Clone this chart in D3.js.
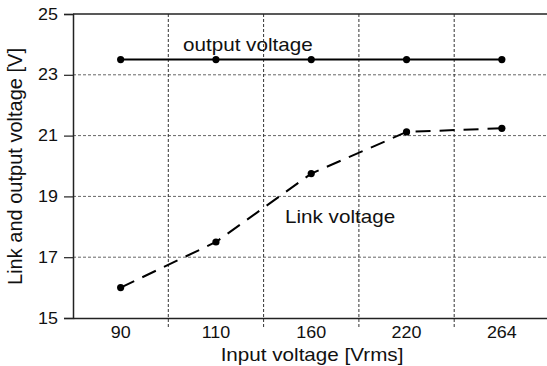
<!DOCTYPE html>
<html lang="en">
<head>
<meta charset="UTF-8">
<script src="https://cdn.jsdelivr.net/npm/d3@7"></script>
<style>
    body { margin: 0; background: #fff; }
    svg { display: block; font-family: "Liberation Sans", Arial, sans-serif; }
</style>
</head>
<body>
<script>
// chart data
const categories = ["90", "110", "160", "220", "264"];
const outputVoltage = [23.5, 23.5, 23.5, 23.5, 23.5];
const linkVoltage = [16.0, 17.5, 19.75, 21.12, 21.24];
const yTicks = [15, 17, 19, 21, 23, 25];

const width = 547, height = 366;
const margin = {top: 14, bottom: 48, left: 73};
const plotW = 476.5;
const plotH = height - margin.top - margin.bottom;
// the original picture is a bit stretched sideways, so are its letters
const sx = 1.18;

const svg = d3.select("body").append("svg")
    .attr("width", width)
    .attr("height", height);

const g = svg.append("g").attr("transform", `translate(${margin.left},${margin.top})`);

// scales
const x = d3.scaleBand().domain(categories).range([0, plotW]).padding(0);
const y = d3.scaleLinear().domain([15, 25]).range([plotH, 0]);

// horizontal grid
g.selectAll(".hgrid")
    .data(yTicks.filter(d => d > 15 && d < 25))
    .enter().append("line")
    .attr("x1", 0).attr("x2", plotW)
    .attr("y1", d => y(d)).attr("y2", d => y(d))
    .attr("stroke", "#666").attr("stroke-width", 1)
    .attr("stroke-dasharray", "3,2");

// vertical grid between categories (runs past the axis a little)
g.selectAll(".vgrid")
    .data(categories.slice(1))
    .enter().append("line")
    .attr("x1", d => x(d)).attr("x2", d => x(d))
    .attr("y1", 0).attr("y2", plotH + 9)
    .attr("stroke", "#333").attr("stroke-width", 1)
    .attr("stroke-dasharray", "3,2");

// top border
g.append("line")
    .attr("x1", 0).attr("x2", plotW)
    .attr("y1", 0).attr("y2", 0)
    .attr("stroke", "#222").attr("stroke-width", 1.5);

// y axis
const yAxis = g.append("g")
    .call(d3.axisLeft(y).tickValues(yTicks).tickSize(9).tickPadding(6));
yAxis.select(".domain").attr("stroke", "#222").attr("stroke-width", 1.5);
yAxis.selectAll(".tick line").attr("stroke", "#222").attr("stroke-width", 1.2);
yAxis.selectAll("text")
    .attr("x", 0)
    .attr("transform", `translate(-15,0) scale(1.12,1)`)
    .attr("font-size", 16).attr("fill", "#111")
    .attr("font-family", "Liberation Sans, Arial, sans-serif");

// x axis
const xAxis = g.append("g")
    .attr("transform", `translate(0,${plotH})`)
    .call(d3.axisBottom(x).tickSize(0).tickPadding(9));
xAxis.select(".domain").attr("stroke", "#222").attr("stroke-width", 1.5);
xAxis.selectAll("text")
    .attr("transform", "scale(1.12,1)")
    .attr("font-size", 16).attr("fill", "#111")
    .attr("font-family", "Liberation Sans, Arial, sans-serif");

const cx = d => x(d) + x.bandwidth() / 2;
const line = d3.line().x(d => cx(d[0])).y(d => y(d[1]));

// output voltage
const outData = categories.map((c, i) => [c, outputVoltage[i]]);
g.append("path").datum(outData)
    .attr("d", line).attr("fill", "none")
    .attr("stroke", "#000").attr("stroke-width", 2);
g.selectAll(".outpt").data(outData).enter().append("circle")
    .attr("cx", d => cx(d[0])).attr("cy", d => y(d[1])).attr("r", 3.6).attr("fill", "#000");

// link voltage
const linkData = categories.map((c, i) => [c, linkVoltage[i]]);
g.append("path").datum(linkData)
    .attr("d", line).attr("fill", "none")
    .attr("stroke", "#000").attr("stroke-width", 2)
    .attr("stroke-dasharray", "15,9");
g.selectAll(".linkpt").data(linkData).enter().append("circle")
    .attr("cx", d => cx(d[0])).attr("cy", d => y(d[1])).attr("r", 3.6).attr("fill", "#000");

// stretched label helper
function label(px, py, txt, anchor) {
    svg.append("text")
        .attr("transform", `translate(${px},${py}) scale(${sx},1)`)
        .attr("text-anchor", anchor || "start")
        .attr("font-size", 17.5).attr("fill", "#111")
        .text(txt);
}

// series labels
label(183, 51, "output voltage");
label(285, 223, "Link voltage");

// axis titles
label(312, 361, "Input voltage [Vrms]", "middle");
svg.append("text")
    .attr("transform", `translate(21.5,${166.5}) rotate(-90) scale(1,${sx})`)
    .attr("text-anchor", "middle").attr("font-size", 17.5).attr("fill", "#111")
    .attr("textLength", 237).attr("lengthAdjust", "spacingAndGlyphs")
    .text("Link and output voltage [V]");
</script>
</body>
</html>
